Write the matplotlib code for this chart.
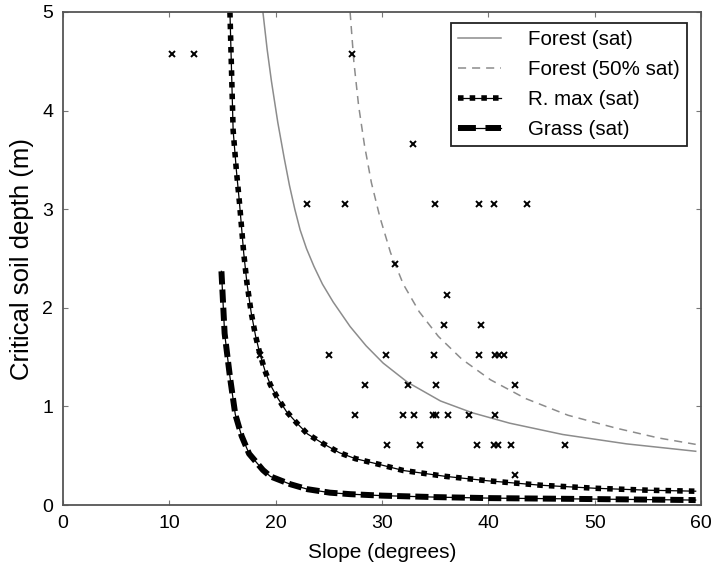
import matplotlib
matplotlib.use("Agg")
import matplotlib.pyplot as plt
from matplotlib.lines import Line2D
from matplotlib.legend_handler import HandlerTuple

plt.rcParams['font.family'] = ['Liberation Sans', 'DejaVu Sans']

# observed slides: slope (degrees) and soil depth (m)
obs_slope = [10.25, 12.3, 27.2,
             32.9,
             22.9, 26.5, 35.0, 39.1, 40.5, 43.6,
             31.2,
             36.1,
             35.8, 39.3,
             18.5, 25.0, 30.4, 34.9, 39.1, 40.6, 41.0, 41.5,
             28.4, 32.4, 35.1, 42.5,
             27.5, 32.0, 33.0, 34.8, 35.1, 36.2, 38.2, 40.6,
             30.5, 33.6, 38.9, 40.5, 40.9, 42.1, 47.2,
             42.5]
obs_depth = [4.57, 4.57, 4.57,
             3.66,
             3.05, 3.05, 3.05, 3.05, 3.05, 3.05,
             2.44,
             2.13,
             1.83, 1.83,
             1.52, 1.52, 1.52, 1.52, 1.52, 1.52, 1.52, 1.52,
             1.22, 1.22, 1.22, 1.22,
             0.91, 0.91, 0.91, 0.91, 0.91, 0.91, 0.91, 0.91,
             0.61, 0.61, 0.61, 0.61, 0.61, 0.61, 0.61,
             0.30]

# critical depth curves
forest_sat_x = [18.8, 19.2, 19.6, 20.2, 20.8, 21.3, 21.8, 22.3, 22.9, 23.6,
                24.4, 25.4, 27.0, 28.5, 30.1, 32.4, 35.5, 38.5, 42.0, 47.0,
                53.0, 59.5]
forest_sat_y = [5.0, 4.62, 4.3, 3.88, 3.52, 3.24, 3.0, 2.79, 2.6, 2.42,
                2.24, 2.06, 1.81, 1.615, 1.44, 1.245, 1.055, 0.935, 0.83,
                0.715, 0.62, 0.545]

forest_half_x = [27.0, 27.35, 27.8, 28.35, 29.0, 29.8, 30.8, 32.0, 33.5, 35.3,
                 37.5, 40.2, 43.5, 47.5, 52.0, 56.0, 59.5]
forest_half_y = [5.0, 4.5, 4.05, 3.65, 3.27, 2.92, 2.56, 2.24, 1.96, 1.71,
                 1.48, 1.27, 1.08, 0.91, 0.78, 0.68, 0.615]

rmax_x = [15.7, 15.85, 16.0, 16.3, 16.6, 17.0, 17.3, 17.7, 18.1, 18.5, 19.0,
          19.5, 20.1, 21.0, 22.0, 23.0, 24.5, 26.0, 27.5, 29.8, 32.0, 36.0,
          40.0, 45.0, 50.0, 55.0, 59.5]
rmax_y = [5.0, 4.4, 3.8, 3.4, 3.06, 2.55, 2.25, 1.95, 1.72, 1.54, 1.36,
          1.22, 1.10, 0.95, 0.83, 0.72, 0.62, 0.53, 0.47, 0.41, 0.35, 0.29,
          0.245, 0.2, 0.17, 0.15, 0.14]

grass_x = [14.9, 15.2, 15.7, 16.2, 16.8, 17.5, 18.8, 19.5, 21.4, 23.0, 25.1,
           27.0, 30.0, 35.0, 40.0, 50.0, 59.5]
grass_y = [2.37, 1.74, 1.30, 0.92, 0.70, 0.52, 0.355, 0.29, 0.21, 0.16, 0.125,
           0.11, 0.095, 0.08, 0.07, 0.06, 0.05]

xticks = [0, 10, 20, 30, 40, 50, 60]
yticks = [0, 1, 2, 3, 4, 5]
labels = ["Forest (sat)", "Forest (50% sat)", "R. max (sat)", "Grass (sat)"]

fig = plt.figure(figsize=(7.12, 5.73), dpi=100)
ax = fig.add_axes([63 / 712, 1 - 505 / 573, 638 / 712, 493 / 573])

gray = '#8c8c8c'
l_forest, = ax.plot(forest_sat_x, forest_sat_y, color=gray, lw=1.1)
l_half, = ax.plot(forest_half_x, forest_half_y, color=gray, lw=1.1,
                  dashes=(5.3, 3.9))

l_rmax_thin, = ax.plot(rmax_x, rmax_y, color='k', lw=0.9)
l_rmax_dots, = ax.plot(rmax_x, rmax_y, color='k', lw=4.0, dashes=(1, 1.1))

l_grass_thin, = ax.plot(grass_x, grass_y, color='k', lw=0.9)
ax.plot(grass_x, grass_y, color='k', lw=4.3, dashes=(2.2, 0.85))

ax.plot(obs_slope, obs_depth, 'x', color='k', ms=4.8, mew=1.4, zorder=5)

ax.set_xlim(0, 60)
ax.set_ylim(0, 5)
ax.set_xticks(xticks)
ax.set_yticks(yticks)
ax.tick_params(direction='in', length=3.5, width=0.8, color='#777777',
               top=True, right=True, labelsize=14, pad=7)
for s in ax.spines.values():
    s.set_color('#555555')
    s.set_linewidth(1.3)

ax.set_xlabel("Slope (degrees)", fontsize=15, labelpad=8)
ax.set_ylabel("Critical soil depth (m)", fontsize=18.5, labelpad=6)

# legend key for grass uses longer dashes, as in the original
grass_key = Line2D([], [], color='k', lw=4.3, dashes=(3.0, 1.6))
leg = ax.legend([l_forest, l_half, (l_rmax_thin, l_rmax_dots),
                 (l_grass_thin, grass_key)], labels,
                handler_map={tuple: HandlerTuple(ndivide=1, pad=0)},
                loc='upper left', bbox_to_anchor=(0.608, 0.978),
                borderaxespad=0, fontsize=14.8, fancybox=False, framealpha=1,
                edgecolor='#222222', labelspacing=0.53, handlelength=2.1,
                handletextpad=1.3, borderpad=0.35)
leg.get_frame().set_linewidth(1.3)

plt.savefig("out.png", dpi=100)
plt.close()
